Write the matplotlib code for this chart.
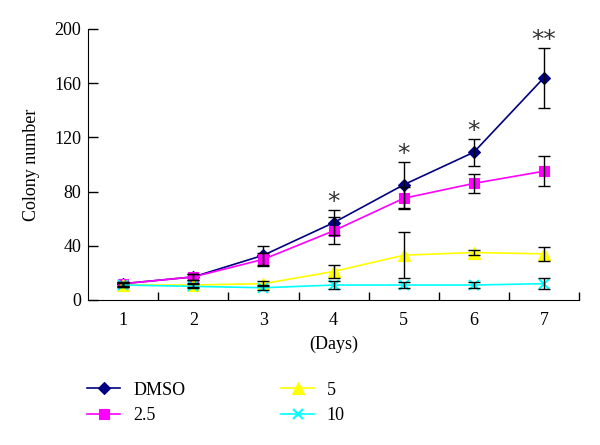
import numpy as np
from matplotlib import pyplot as plt

plt.rcParams['font.family'] = ['Liberation Serif', 'DejaVu Serif']
plt.rcParams['font.size'] = 13

days = [1, 2, 3, 4, 5, 6, 7]
groups = ['DMSO', '2.5', '5', '10']

dmso = [12, 17, 33, 57, 85, 109, 164]
dmso_err = [1.5, 2, 7, 9, 17, 10, 22]
c25 = [12, 17, 30, 51, 75, 86, 95]
c25_err = [1.5, 2, 5, 10, 8, 7, 11]
c5 = [11, 11, 12, 21, 33, 35, 34]
c5_err = [1.5, 1.5, 2, 5, 17, 2, 5]
c10 = [11, 10, 9, 11, 11, 11, 12]
c10_err = [1.5, 1.5, 2, 3, 2, 2, 4]

stars = ['', '', '', '*', '*', '*', '**']

colors = ['#000080', '#ff00ff', '#ffff00', '#00ffff']
markers = ['D', 's', '^', 'x']
sizes = [6.5, 7.5, 8, 7]

fig = plt.figure(figsize=(6, 4.45), dpi=100)
ax = fig.add_axes([0.147, 0.326, 0.818, 0.609])

series = [(dmso, dmso_err), (c25, c25_err), (c5, c5_err), (c10, c10_err)]
lines = []
for (vals, err), name, col, mk, ms in zip(series, groups, colors, markers, sizes):
    ax.errorbar(days, vals, yerr=err, fmt='none', ecolor='black',
                elinewidth=1, capsize=4, capthick=1, zorder=3)
    ln, = ax.plot(days, vals, color=col, marker=mk, markersize=ms,
                  markeredgewidth=1.5 if mk == 'x' else 0.8,
                  markeredgecolor=col, lw=1.2, label=name, zorder=2)
    lines.append(ln)

for d, v, e, s in zip(days, dmso, dmso_err, stars):
    if s:
        ax.text(d, v + e + 6, s, ha='center', va='center', fontsize=18,
                color='#333333', family='DejaVu Sans')

ax.set_xlim(0.5, 7.5)
ax.set_ylim(0, 200)
ax.set_yticks([0, 40, 80, 120, 160, 200])
ax.set_xticks(days)
ax.set_xticks(np.arange(1.5, 7.6, 1), minor=True)
ax.tick_params(axis='x', which='major', length=0, pad=9)
ax.tick_params(axis='x', which='minor', direction='in', length=6, width=1)
ax.tick_params(axis='y', direction='in', length=7, width=1, pad=5)
ax.spines['top'].set_visible(False)
ax.spines['right'].set_visible(False)
ax.set_xlabel('(Days)', labelpad=4.5)
ax.set_ylabel('Colony number', labelpad=10)

fig.legend(handles=lines, ncol=2, frameon=False, loc='upper left',
           bbox_to_anchor=(0.145, 0.142), borderpad=0, borderaxespad=0,
           handlelength=1.85, columnspacing=5.3,
           labelspacing=0.45, handletextpad=0.7, fontsize=13)

fig.savefig('out.png', dpi=100)
